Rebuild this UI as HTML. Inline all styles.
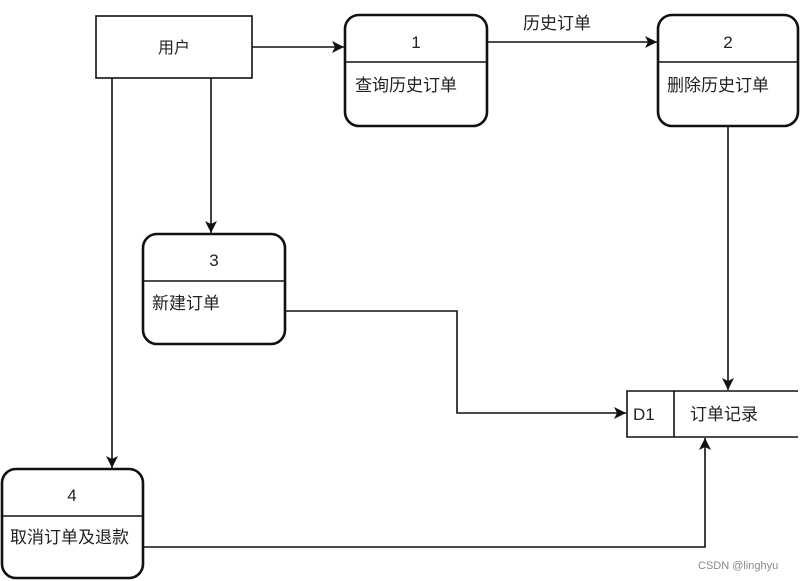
<!DOCTYPE html>
<html><head><meta charset="utf-8"><style>
html,body{margin:0;padding:0;background:#fff;width:800px;height:581px;overflow:hidden}
text{font-family:"Liberation Sans","Noto Sans CJK SC",sans-serif;fill:#222}
</style></head><body>
<svg width="800" height="581" viewBox="0 0 800 581" xmlns="http://www.w3.org/2000/svg">
<defs><marker id="a" markerWidth="13" markerHeight="12" refX="12" refY="6" orient="auto" markerUnits="userSpaceOnUse"><path d="M0,0 L12,6 L0,12 L3,6 Z" fill="#111"/></marker></defs>
<g fill="none" stroke="#111" stroke-width="1.6">
<rect x="96" y="16" width="156" height="62"/>
<rect x="345" y="15" width="142" height="111" rx="14" stroke-width="2.6"/>
<line x1="345" y1="62" x2="487" y2="62"/>
<rect x="658" y="15" width="140" height="111" rx="14" stroke-width="2.6"/>
<line x1="658" y1="62" x2="798" y2="62"/>
<rect x="143" y="234" width="142" height="110" rx="14" stroke-width="2.6"/>
<line x1="143" y1="281" x2="285" y2="281"/>
<rect x="2" y="469" width="141" height="109" rx="14" stroke-width="2.6"/>
<line x1="2" y1="516" x2="143" y2="516"/>
<path d="M798,391 H627 V437 H798"/>
<line x1="674" y1="391" x2="674" y2="437"/>
<line x1="252" y1="47" x2="344" y2="47" marker-end="url(#a)"/>
<line x1="487" y1="42" x2="657" y2="42" marker-end="url(#a)"/>
<line x1="112" y1="78" x2="112" y2="468" marker-end="url(#a)"/>
<line x1="211" y1="78" x2="211" y2="233" marker-end="url(#a)"/>
<line x1="728" y1="126" x2="728" y2="390" marker-end="url(#a)"/>
<path d="M285,311 H457 V413 H626" marker-end="url(#a)"/>
<path d="M143,547 H705 V438" marker-end="url(#a)"/>
</g>
<text x="174" y="53" font-size="16" text-anchor="middle">用户</text>
<text x="416" y="48" font-size="17" text-anchor="middle">1</text>
<text x="355" y="91" font-size="17">查询历史订单</text>
<text x="728" y="48" font-size="17" text-anchor="middle">2</text>
<text x="667" y="91" font-size="17">删除历史订单</text>
<text x="557" y="29" font-size="17" text-anchor="middle">历史订单</text>
<text x="214" y="266" font-size="17" text-anchor="middle">3</text>
<text x="152" y="309" font-size="17">新建订单</text>
<text x="72" y="501" font-size="17" text-anchor="middle">4</text>
<text x="10" y="543" font-size="17">取消订单及退款</text>
<text x="633" y="420" font-size="17">D1</text>
<text x="690" y="420" font-size="17">订单记录</text>
<text x="698" y="569" font-size="11" style="fill:#888">CSDN @linghyu</text>
</svg>
</body></html>
